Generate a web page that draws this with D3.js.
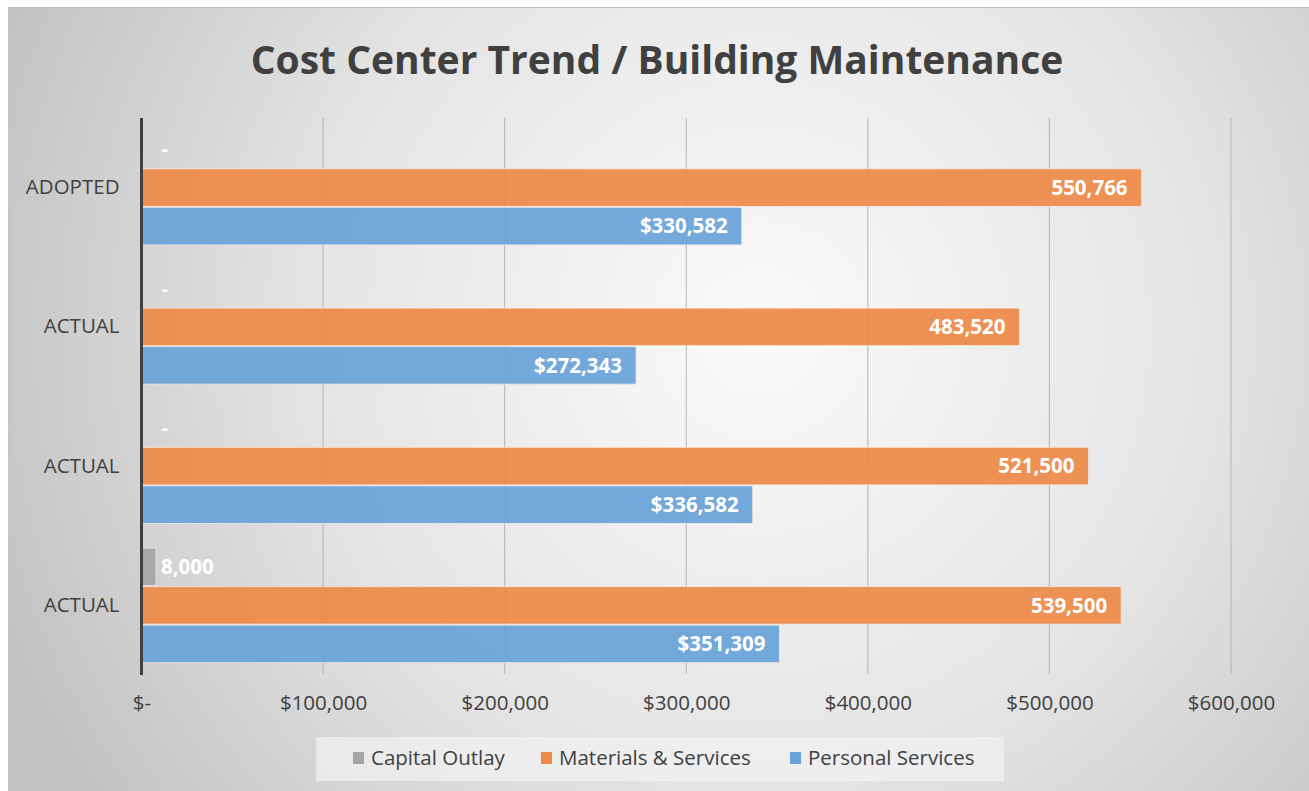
<!DOCTYPE html>
<html>
<head>
<meta charset="utf-8">
<script src="https://cdn.jsdelivr.net/npm/d3@7"></script>
<style>
  body { margin: 0; background: #fff; }
  svg { display: block; font-family: "Open Sans", sans-serif; }
</style>
</head>
<body>
<div id="chart"></div>
<script>
// data, top to bottom
const categories = ['ADOPTED', 'ACTUAL', 'ACTUAL', 'ACTUAL']
const seriesNames = ['Capital Outlay', 'Materials & Services', 'Personal Services']
const capitalOutlay = [0, 0, 0, 8000]
const materialsServices = [550766, 483520, 521500, 539500]
const personalServices = [330582, 272343, 336582, 351309]
const tickValues = [0, 100000, 200000, 300000, 400000, 500000, 600000]
const tickLabels = ['$-', '$100,000', '$200,000', '$300,000', '$400,000', '$500,000', '$600,000']

const colors = ['#a5a5a5', '#ed8a48', '#69a3d9']

const width = 1309
const height = 791
const plotLeft = 141.5
const plotRight = 1231
const plotTop = 118
const plotBottom = 675

const svg = d3.select('#chart')
    .append('svg')
    .attr('width', width)
    .attr('height', height)

// background
const defs = svg.append('defs')
const grad = defs.append('radialGradient')
    .attr('id', 'bg')
    .attr('gradientUnits', 'userSpaceOnUse')
    .attr('cx', 760).attr('cy', 330).attr('r', 820)
grad.append('stop').attr('offset', '0%').attr('stop-color', '#fbfbfb')
grad.append('stop').attr('offset', '55%').attr('stop-color', '#e4e4e4')
grad.append('stop').attr('offset', '100%').attr('stop-color', '#c2c2c2')

svg.append('rect')
    .attr('x', 8.5).attr('y', 7.5)
    .attr('width', width - 8).attr('height', height - 7)
    .attr('fill', 'url(#bg)')
    .attr('stroke', '#c4c4c4')

// title
svg.append('text')
    .attr('x', 657).attr('y', 74)
    .attr('text-anchor', 'middle')
    .attr('font-size', 39)
    .attr('font-weight', 'bold')
    .attr('fill', '#404040')
    .text('Cost Center Trend / Building Maintenance')

const x = d3.scaleLinear()
    .domain([0, 600000])
    .range([plotLeft, plotRight])

const y = d3.scaleBand()
    .domain(categories.map((d, i) => i))
    .range([plotTop, plotBottom])
    .paddingInner(0.17)
    .paddingOuter(0.085)

const y1 = d3.scaleBand()
    .domain(seriesNames)
    .range([0, y.bandwidth()])

// gridlines
svg.append('g')
    .selectAll('line')
    .data(tickValues.slice(1))
    .enter()
    .append('line')
    .attr('x1', d => x(d)).attr('x2', d => x(d))
    .attr('y1', plotTop).attr('y2', plotBottom - 1)
    .attr('stroke', '#b4b4b4')
    .attr('stroke-width', 1)

// x axis labels
const xAxis = d3.axisBottom(x)
    .tickValues(tickValues)
    .tickFormat((d, i) => tickLabels[i])
    .tickSize(0)
    .tickPadding(20)

svg.append('g')
    .attr('transform', `translate(0, ${plotBottom})`)
    .call(xAxis)
    .call(g => g.select('.domain').remove())
    .selectAll('text')
    .attr('font-family', '"Open Sans", sans-serif')
    .attr('font-size', 20.5)
    .attr('fill', '#404040')

// category labels
const yAxis = d3.axisLeft(y)
    .tickFormat(i => categories[i])
    .tickSize(0)
    .tickPadding(22)

svg.append('g')
    .attr('transform', `translate(${plotLeft}, 0)`)
    .call(yAxis)
    .call(g => g.select('.domain').remove())
    .selectAll('text')
    .attr('font-family', '"Open Sans", sans-serif')
    .attr('font-size', 20.5)
    .attr('fill', '#404040')

// bars
const rows = categories.map((c, i) => [
    { name: seriesNames[0], value: capitalOutlay[i] },
    { name: seriesNames[1], value: materialsServices[i] },
    { name: seriesNames[2], value: personalServices[i] }
])

const groups = svg.append('g')
    .selectAll('g')
    .data(rows)
    .enter()
    .append('g')
    .attr('transform', (d, i) => `translate(0, ${y(i)})`)

groups.selectAll('rect')
    .data(d => d)
    .enter()
    .append('rect')
    .attr('x', x(0))
    .attr('y', d => y1(d.name) + 0.5)
    .attr('width', d => x(d.value) - x(0))
    .attr('height', y1.bandwidth() - 1)
    .attr('fill', (d, j) => colors[j])
    .attr('fill-opacity', 0.93)
    .attr('stroke', '#f4e9e2')
    .attr('stroke-opacity', 0.8)
    .attr('stroke-width', 1)

// value labels
groups.selectAll('text')
    .data(d => d)
    .enter()
    .append('text')
    .attr('x', (d, j) => {
        if (j === 0) return d.value === 0 ? x(0) + 20 : x(d.value) + 5
        return x(d.value) - 14
    })
    .attr('y', d => y1(d.name) + y1.bandwidth() / 2)
    .attr('dy', '0.35em')
    .attr('text-anchor', (d, j) => j === 0 ? 'start' : 'end')
    .attr('font-size', 20.5)
    .attr('font-weight', 'bold')
    .attr('fill', '#fff')
    .text((d, j) => {
        if (d.value === 0) return '-'
        if (j === 2) return '$' + d3.format(',')(d.value)
        return d3.format(',')(d.value)
    })

// axis line
svg.append('line')
    .attr('x1', plotLeft).attr('x2', plotLeft)
    .attr('y1', plotTop).attr('y2', plotBottom)
    .attr('stroke', '#404040')
    .attr('stroke-width', 3)

// legend
svg.append('rect')
    .attr('x', 316).attr('y', 737)
    .attr('width', 688).attr('height', 44)
    .attr('fill', '#f2f2f2')
    .attr('fill-opacity', 0.7)

const legendX = [353, 541, 790]
const item = svg.append('g')
    .selectAll('g')
    .data(seriesNames)
    .enter()
    .append('g')
    .attr('transform', (d, i) => `translate(${legendX[i]}, 758)`)

item.append('rect')
    .attr('x', 0).attr('y', -6)
    .attr('width', 11).attr('height', 12)
    .attr('fill', (d, i) => colors[i])

item.append('text')
    .attr('x', 18)
    .attr('dy', '0.35em')
    .attr('font-size', 20.5)
    .attr('fill', '#404040')
    .text(d => d)
</script>
</body>
</html>
